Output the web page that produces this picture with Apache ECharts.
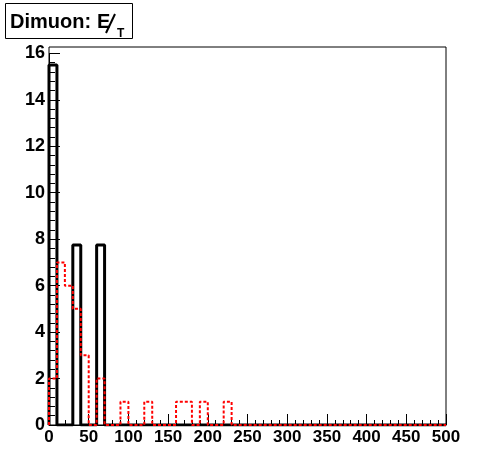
<!DOCTYPE html>
<html><head><meta charset="utf-8">
<script src="https://cdn.jsdelivr.net/npm/echarts@6/dist/echarts.min.js"></script>
<style>html,body{margin:0;padding:0;background:#fff;}#c{width:496px;height:472px;}</style>
</head><body><div id="c"></div>
<script>
var binWidth = 10;
var xTicks = [0, 50, 100, 150, 200, 250, 300, 350, 400, 450, 500];
var yTicks = [0, 2, 4, 6, 8, 10, 12, 14, 16];
var blackBins = [15.5,0,0,7.75,0,0,7.75,0,0,0, 0,0,0,0,0,0,0,0,0,0, 0,0,0,0,0,0,0,0,0,0, 0,0,0,0,0,0,0,0,0,0, 0,0,0,0,0,0,0,0,0,0];
var redBins   = [2,7,6,5,3,0,2,0,0,1, 0,0,1,0,0,0,1,1,0,1, 0,0,1,0,0,0,0,0,0,0, 0,0,0,0,0,0,0,0,0,0, 0,0,0,0,0,0,0,0,0,0];
var titleMain = 'Dimuon:';
var titleE = 'E';
var titleSub = 'T';
var yMax = 15.5 * 1.05;

function stepData(bins) {
  var d = [[0, 0]];
  for (var i = 0; i < bins.length; i++) d.push([i * binWidth, bins[i]]);
  d.push([bins.length * binWidth, 0]);
  return d;
}
var font = "Liberation Sans";
var chart = echarts.init(document.getElementById('c'), null, {renderer: 'canvas'});
var gTop = 47, gBottom = 47, gLeft = 49, gRight = 50;
var plotH = 472 - gTop - gBottom;
var top16 = gTop + plotH * (1 - 16 / yMax);
chart.setOption({
  animation: false,
  backgroundColor: '#fff',
  grid: [
    {left: gLeft, right: gRight, top: gTop, bottom: gBottom, show: true, borderColor: '#000', borderWidth: 1, backgroundColor: 'transparent'},
    {left: gLeft, right: gRight, top: top16, bottom: gBottom, show: false}
  ],
  xAxis: [
    {gridIndex: 0, type: 'value', min: 0, max: 500, interval: 50,
     axisLine: {show: true, onZero: false, lineStyle: {color: '#000', width: 1}},
     axisTick: {show: true, inside: true, length: 11, lineStyle: {color: '#000'}},
     minorTick: {show: true, splitNumber: 5, length: 5, lineStyle: {color: '#000'}},
     splitLine: {show: false},
     axisLabel: {color: '#000', fontFamily: font, fontWeight: 'bold', fontSize: 17, margin: 4,
       formatter: function (v) { return xTicks.indexOf(v) >= 0 ? String(v) : ''; }}},
    {gridIndex: 1, type: 'value', min: 0, max: 500, show: false}
  ],
  yAxis: [
    {gridIndex: 0, type: 'value', min: 0, max: yMax, show: false, splitLine: {show: false}},
    {gridIndex: 1, type: 'value', min: 0, max: 16, interval: 2,
     axisLine: {show: true, onZero: false, lineStyle: {color: '#000', width: 1}},
     axisTick: {show: true, inside: true, length: 11, lineStyle: {color: '#000'}},
     minorTick: {show: true, splitNumber: 5, length: 6, lineStyle: {color: '#000'}},
     splitLine: {show: false},
     axisLabel: {color: '#000', fontFamily: font, fontWeight: 'bold', fontSize: 18, margin: 4,
       formatter: function (v) { return yTicks.indexOf(v) >= 0 ? String(v) : ''; }}}
  ],
  series: [
    {type: 'line', xAxisIndex: 0, yAxisIndex: 0, step: 'end', data: stepData(blackBins),
     showSymbol: false, symbol: 'none', lineStyle: {color: '#000', width: 3}, z: 2},
    {type: 'line', xAxisIndex: 0, yAxisIndex: 0, step: 'end', data: stepData(redBins),
     showSymbol: false, symbol: 'none', lineStyle: {color: '#ff0000', width: 2, type: [3, 2]}, z: 3}
  ],
  graphic: [
    {type: 'rect', left: 5, top: 3, shape: {width: 127, height: 35}, style: {fill: '#fff', stroke: '#000', lineWidth: 1}, z: 10},
    {type: 'text', left: 10, top: 12, z: 11,
     style: {text: titleMain, fontFamily: font, fontWeight: 'bold', fontSize: 20, fill: '#000'}},
    {type: 'text', left: 97, top: 12, z: 11,
     style: {text: titleE, fontFamily: font, fontWeight: 'bold', fontSize: 20, fill: '#000'}},
    {type: 'line', z: 12, shape: {x1: 115, y1: 14, x2: 106, y2: 33}, style: {stroke: '#000', lineWidth: 2}},
    {type: 'text', left: 117, top: 28, z: 12,
     style: {text: titleSub, fontFamily: font, fontWeight: 'bold', fontSize: 12, fill: '#000'}}
  ]
});
</script></body></html>
